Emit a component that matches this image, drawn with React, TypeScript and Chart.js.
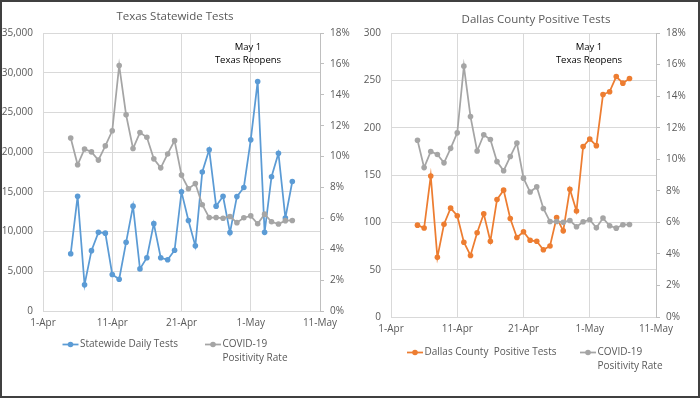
import React, { useEffect, useRef } from 'react';
import { Chart, registerables } from 'chart.js';

Chart.register(...registerables);

// Days after 1-Apr (Apr 5 .. May 7)
const dayOffsets = [4, 5, 6, 7, 8, 9, 10, 11, 12, 13, 14, 15, 16, 17, 18, 19, 20, 21, 22, 23, 24, 25, 26, 27, 28, 29, 30, 31, 32, 33, 34, 35, 36];
const xTickLabels = ['1-Apr', '11-Apr', '21-Apr', '1-May', '11-May'];
const statewideTickLabels = ['0', '5,000', '10,000', '15,000', '20,000', '25,000', '30,000', '35,000'];
const dallasTickLabels = ['0', '50', '100', '150', '200', '250', '300'];
const percentTickLabels = ['0%', '2%', '4%', '6%', '8%', '10%', '12%', '14%', '16%', '18%'];

const statewideDailyTests = [7200, 14450, 3300, 7600, 9900, 9800, 4600, 4000, 8650, 13200, 5300, 6700, 11000, 6700, 6450, 7650, 15000, 11400, 8200, 17500, 20300, 13200, 14450, 9870, 14400, 15550, 21550, 28900, 9900, 16900, 19870, 11700, 16300];
const dallasPositiveTests = [97, 94, 149, 63, 98, 115, 107, 79, 65, 89, 109, 80, 124, 134, 104, 84, 90, 81, 80, 71, 75, 105, 91, 135, 112, 180, 188, 181, 235, 238, 254, 247, 252];
const positivityRate = [11.2, 9.47, 10.49, 10.3, 9.77, 10.69, 11.67, 15.9, 12.7, 10.52, 11.55, 11.25, 9.85, 9.27, 10.17, 11.03, 8.8, 7.92, 8.25, 6.88, 6.05, 6.05, 6.01, 6.12, 5.72, 6.04, 6.16, 5.65, 6.27, 5.78, 5.63, 5.85, 5.86];

const FONT = '"Open Sans", sans-serif';
const TEXT = '#595959';
const GRID = '#d9d9d9';
const BLUE = '#5B9BD5';
const ORANGE = '#ED7D31';
const GREY = '#A5A5A5';

const W = 350;
const H = 398;

type LegendItem = { color: string; x: number; y: number; lines: string[] };
type Spec = {
  area: { left: number; right: number; top: number; bottom: number };
  title: string;
  titleX: number;
  titleY: number;
  noteX: number;
  noteY: number;
  primaryLabel: string;
  primaryData: number[];
  primaryColor: string;
  primaryMax: number;
  primaryStep: number;
  primaryTicks: string[];
  legend: LegendItem[];
};

function makeOverlay(spec: Spec) {
  return {
    id: 'overlay',
    afterDraw(chart: Chart) {
      const ctx = chart.ctx;
      ctx.save();
      ctx.textBaseline = 'middle';
      ctx.textAlign = 'center';
      ctx.fillStyle = TEXT;
      ctx.font = `11.5px ${FONT}`;
      ctx.fillText(spec.title, spec.titleX, spec.titleY);

      ctx.fillStyle = '#000000';
      ctx.font = `9.5px ${FONT}`;
      ['May 1', 'Texas Reopens'].forEach((t, i) => ctx.fillText(t, spec.noteX, spec.noteY + i * 13.6));

      ctx.textAlign = 'left';
      ctx.font = `10px ${FONT}`;
      spec.legend.forEach((item) => {
        ctx.strokeStyle = item.color;
        ctx.lineWidth = 1.75;
        ctx.beginPath();
        ctx.moveTo(item.x, item.y);
        ctx.lineTo(item.x + 16, item.y);
        ctx.stroke();
        ctx.fillStyle = item.color;
        ctx.beginPath();
        ctx.arc(item.x + 8, item.y, 2.8, 0, Math.PI * 2);
        ctx.fill();
        ctx.fillStyle = TEXT;
        item.lines.forEach((t, i) => ctx.fillText(t, item.x + 17.5, item.y + i * 14));
      });
      ctx.restore();
    },
  };
}

function buildConfig(spec: Spec): any {
  const pts = (vals: number[]) => vals.map((v, i) => ({ x: dayOffsets[i], y: v }));
  const tickFont = { family: FONT, size: 10 };
  return {
    type: 'line',
    data: {
      datasets: [
        {
          label: 'COVID-19 Positivity Rate',
          data: pts(positivityRate),
          yAxisID: 'y2',
          borderColor: GREY,
          backgroundColor: GREY,
          borderWidth: 1.75,
          pointRadius: 2.8,
          pointBorderWidth: 0,
          pointBackgroundColor: GREY,
          tension: 0,
          order: 0,
        },
        {
          label: spec.primaryLabel,
          data: pts(spec.primaryData),
          yAxisID: 'y',
          borderColor: spec.primaryColor,
          backgroundColor: spec.primaryColor,
          borderWidth: 1.75,
          pointRadius: 2.8,
          pointBorderWidth: 0,
          pointBackgroundColor: spec.primaryColor,
          tension: 0,
          order: 1,
        },
      ],
    },
    options: {
      responsive: false,
      animation: false,
      devicePixelRatio: 1,
      layout: { padding: { top: spec.area.top, left: 0, right: 0, bottom: 0 } },
      plugins: { legend: { display: false }, title: { display: false }, tooltip: { enabled: false } },
      scales: {
        x: {
          type: 'linear',
          min: 0,
          max: 40,
          afterFit: (s: any) => { s.height = H - spec.area.bottom; },
          afterBuildTicks: (s: any) => { s.ticks = xTickLabels.map((_, i) => ({ value: i * 10 })); },
          ticks: {
            font: tickFont,
            color: TEXT,
            padding: 6,
            maxRotation: 0,
            autoSkip: false,
            callback: (_v: any, i: number) => xTickLabels[i],
          },
          grid: { color: GRID, drawTicks: false },
          border: { color: GRID },
        },
        y: {
          position: 'left',
          min: 0,
          max: spec.primaryMax,
          afterFit: (s: any) => { s.width = spec.area.left; },
          ticks: {
            stepSize: spec.primaryStep,
            font: tickFont,
            color: TEXT,
            padding: 10,
            callback: (_v: any, i: number) => spec.primaryTicks[i],
          },
          grid: { color: GRID, drawTicks: false },
          border: { color: GRID },
        },
        y2: {
          position: 'right',
          min: 0,
          max: 18,
          afterFit: (s: any) => { s.width = W - spec.area.right; },
          ticks: {
            stepSize: 2,
            font: tickFont,
            color: TEXT,
            padding: 6,
            callback: (_v: any, i: number) => percentTickLabels[i],
          },
          grid: { drawOnChartArea: false, drawTicks: true, tickLength: 4, color: '#bfbfbf' },
          border: { color: '#bfbfbf' },
        },
      },
    },
    plugins: [makeOverlay(spec)],
  };
}

const leftSpec: Spec = {
  area: { left: 43, right: 320, top: 33, bottom: 311 },
  title: 'Texas Statewide Tests',
  titleX: 175,
  titleY: 17,
  noteX: 248,
  noteY: 47,
  primaryLabel: 'Statewide Daily Tests',
  primaryData: statewideDailyTests,
  primaryColor: BLUE,
  primaryMax: 35000,
  primaryStep: 5000,
  primaryTicks: statewideTickLabels,
  legend: [
    { color: BLUE, x: 62.5, y: 344.5, lines: ['Statewide Daily Tests'] },
    { color: GREY, x: 205, y: 344.5, lines: ['COVID-19', 'Positivity Rate'] },
  ],
};

const rightSpec: Spec = {
  area: { left: 41, right: 306, top: 33, bottom: 317 },
  title: 'Dallas County Positive Tests',
  titleX: 186,
  titleY: 20,
  noteX: 239,
  noteY: 47,
  primaryLabel: 'Dallas County  Positive Tests',
  primaryData: dallasPositiveTests,
  primaryColor: ORANGE,
  primaryMax: 300,
  primaryStep: 50,
  primaryTicks: dallasTickLabels,
  legend: [
    { color: ORANGE, x: 57, y: 352.5, lines: ['Dallas County  Positive Tests'] },
    { color: GREY, x: 230, y: 352.5, lines: ['COVID-19', 'Positivity Rate'] },
  ],
};

function ChartPanel({ spec, left }: { spec: Spec; left: number }) {
  const ref = useRef<HTMLCanvasElement>(null);
  useEffect(() => {
    if (!ref.current) return;
    const chart = new Chart(ref.current, buildConfig(spec));
    return () => chart.destroy();
  }, [spec]);
  return (
    <canvas
      ref={ref}
      width={W}
      height={H}
      style={{ position: 'absolute', left, top: 0, width: W, height: H }}
    />
  );
}

export default function App() {
  return (
    <div style={{ position: 'fixed', left: 0, top: 0, width: 700, height: 398, background: '#ffffff', overflow: 'hidden' }}>
      <ChartPanel spec={leftSpec} left={0} />
      <ChartPanel spec={rightSpec} left={350} />
      <div
        style={{
          position: 'absolute',
          left: 0,
          top: 0,
          width: 700,
          height: 398,
          boxSizing: 'border-box',
          border: '2px solid #404040',
          pointerEvents: 'none',
        }}
      />
    </div>
  );
}
